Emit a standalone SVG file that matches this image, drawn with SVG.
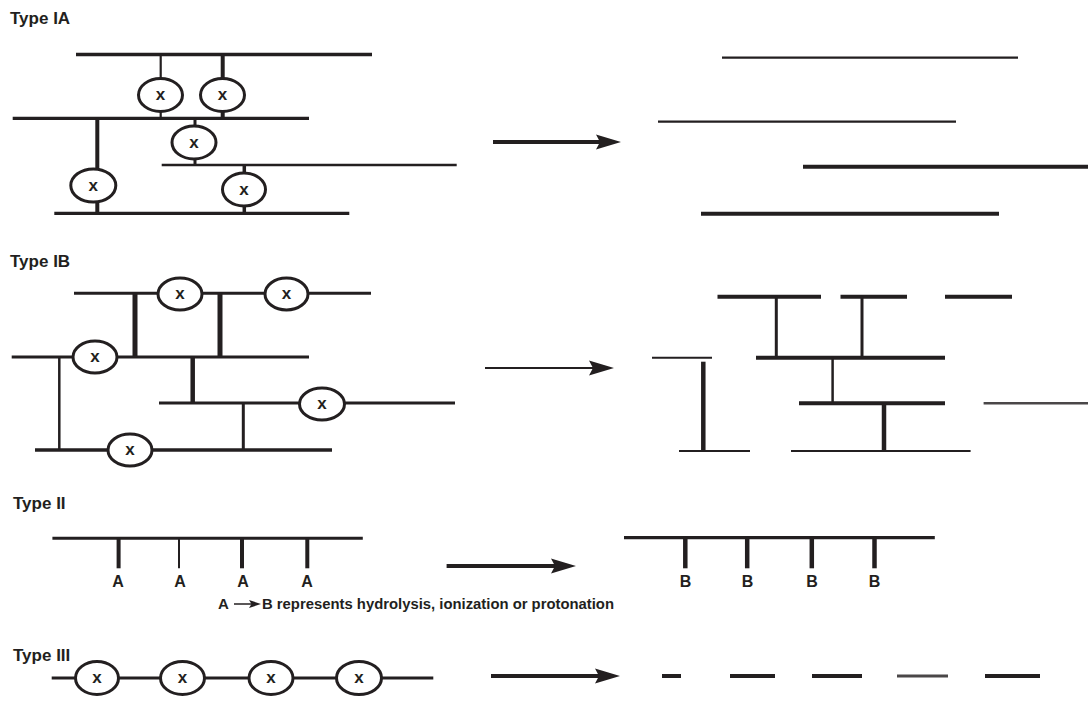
<svg xmlns="http://www.w3.org/2000/svg" width="1088" height="719" viewBox="0 0 1088 719">
  <style>
    .ln { stroke: #231f20; fill: none; stroke-linecap: butt; }
    .ring { fill: #ffffff; stroke: #231f20; stroke-width: 3; }
    .lbl { font-family: "Liberation Sans", Arial, sans-serif; font-weight: bold; fill: #231f20; }
    .ttl { font-size: 17px; }
    .sub { font-size: 16px; }
    .cap { font-size: 15px; }
    .xx { font-size: 17px; }
    .grey { stroke: #4a4748; }
  </style>
  <defs>
    <marker id="head" markerUnits="userSpaceOnUse" markerWidth="26" markerHeight="16" viewBox="0 0 26 16" refX="4" refY="8" orient="auto">
      <path d="M0,0.5 L25,8 L0,15.5 L4,8 Z" fill="#231f20"/>
    </marker>
  </defs>

  <rect width="1088" height="719" fill="#ffffff"/>

  <!-- section titles -->
  <g id="titles">
    <text class="lbl ttl" x="10" y="24">Type IA</text>
    <text class="lbl ttl" x="10" y="267">Type IB</text>
    <text class="lbl ttl" x="13" y="509">Type II</text>
    <text class="lbl ttl" x="13" y="661">Type III</text>
  </g>

  <!-- ===== Type IA ===== -->
  <g id="ia-connectors">
    <line class="ln" x1="76" y1="54.5" x2="372" y2="54.5" stroke-width="3.3"/>
    <line class="ln" x1="12.7" y1="118.3" x2="309" y2="118.3" stroke-width="3.3"/>
    <line class="ln" x1="161.7" y1="165" x2="456.7" y2="165" stroke-width="2.7"/>
    <line class="ln" x1="54.3" y1="213.3" x2="349.3" y2="213.3" stroke-width="3.3"/>
    <line class="ln" x1="160.7" y1="54.5" x2="160.7" y2="118.3" stroke-width="2.2"/>
    <line class="ln" x1="222.7" y1="54.5" x2="222.7" y2="118.3" stroke-width="4"/>
    <line class="ln" x1="195" y1="118.3" x2="195" y2="165" stroke-width="3"/>
    <line class="ln" x1="97.3" y1="118.3" x2="97.3" y2="213.3" stroke-width="4"/>
    <line class="ln" x1="244.3" y1="165" x2="244.3" y2="213.3" stroke-width="3.5"/>
  </g>
  <g id="ia-x1"><ellipse class="ring" cx="160.5" cy="95" rx="22" ry="16.5"/><text class="lbl xx" x="160.5" y="100" text-anchor="middle">x</text></g>
  <g id="ia-x2"><ellipse class="ring" cx="222.5" cy="95" rx="22" ry="16.5"/><text class="lbl xx" x="222.5" y="100" text-anchor="middle">x</text></g>
  <g id="ia-x3"><ellipse class="ring" cx="194" cy="142.5" rx="22" ry="16.5"/><text class="lbl xx" x="194" y="147.5" text-anchor="middle">x</text></g>
  <g id="ia-x4"><ellipse class="ring" cx="93.3" cy="185.5" rx="22.5" ry="16.5"/><text class="lbl xx" x="93.3" y="190.5" text-anchor="middle">x</text></g>
  <g id="ia-x5"><ellipse class="ring" cx="244" cy="189.5" rx="21.5" ry="16.5"/><text class="lbl xx" x="244" y="194.5" text-anchor="middle">x</text></g>

  <g id="ia-products">
    <line class="ln" x1="722" y1="57.7" x2="1018" y2="57.7" stroke-width="2.3"/>
    <line class="ln" x1="658" y1="121.7" x2="956" y2="121.7" stroke-width="2.3"/>
    <line class="ln" x1="803" y1="166.7" x2="1088" y2="166.7" stroke-width="4"/>
    <line class="ln" x1="701" y1="213.7" x2="999" y2="213.7" stroke-width="4"/>
  </g>

  <!-- ===== Type IB ===== -->
  <g id="ib-connectors">
    <line class="ln" x1="74" y1="293.3" x2="371" y2="293.3" stroke-width="3"/>
    <line class="ln" x1="11.7" y1="357" x2="309" y2="357" stroke-width="2.8"/>
    <line class="ln" x1="159" y1="403" x2="455" y2="403" stroke-width="2.8"/>
    <line class="ln" x1="35" y1="450" x2="332" y2="450" stroke-width="3.3"/>
    <line class="ln" x1="135" y1="293.3" x2="135" y2="357" stroke-width="5"/>
    <line class="ln" x1="220" y1="293.3" x2="220" y2="357" stroke-width="5"/>
    <line class="ln" x1="59.3" y1="357" x2="59.3" y2="450" stroke-width="2.5"/>
    <line class="ln" x1="192.7" y1="357" x2="192.7" y2="403" stroke-width="4.5"/>
    <line class="ln" x1="243.3" y1="403" x2="243.3" y2="450" stroke-width="3"/>
  </g>
  <g id="ib-x1"><ellipse class="ring" cx="180" cy="294" rx="22" ry="16"/><text class="lbl xx" x="180" y="299" text-anchor="middle">x</text></g>
  <g id="ib-x2"><ellipse class="ring" cx="286.5" cy="294" rx="21.5" ry="16"/><text class="lbl xx" x="286.5" y="299" text-anchor="middle">x</text></g>
  <g id="ib-x3"><ellipse class="ring" cx="95" cy="357" rx="22" ry="16"/><text class="lbl xx" x="95" y="362" text-anchor="middle">x</text></g>
  <g id="ib-x4"><ellipse class="ring" cx="322" cy="404" rx="22.5" ry="16"/><text class="lbl xx" x="322" y="409" text-anchor="middle">x</text></g>
  <g id="ib-x5"><ellipse class="ring" cx="130" cy="450" rx="22" ry="16"/><text class="lbl xx" x="130" y="455" text-anchor="middle">x</text></g>

  <g id="ib-products">
    <line class="ln" x1="717.5" y1="296.7" x2="821" y2="296.7" stroke-width="4"/>
    <line class="ln" x1="840.5" y1="296.7" x2="907" y2="296.7" stroke-width="4"/>
    <line class="ln" x1="945" y1="296.7" x2="1012" y2="296.7" stroke-width="4"/>
    <line class="ln" x1="776.3" y1="296.7" x2="776.3" y2="357.7" stroke-width="3"/>
    <line class="ln" x1="862" y1="296.7" x2="862" y2="357.7" stroke-width="3"/>
    <line class="ln" x1="756" y1="357.7" x2="945" y2="357.7" stroke-width="4"/>
    <line class="ln" x1="652" y1="357.7" x2="712" y2="357.7" stroke-width="2"/>
    <line class="ln" x1="703.3" y1="361.7" x2="703.3" y2="451" stroke-width="4.5"/>
    <line class="ln" x1="832.6" y1="357.7" x2="832.6" y2="403.3" stroke-width="2.5"/>
    <line class="ln" x1="799" y1="403.3" x2="945" y2="403.3" stroke-width="4"/>
    <line class="ln grey" x1="983.6" y1="403.3" x2="1088" y2="403.3" stroke-width="2.5"/>
    <line class="ln" x1="884" y1="403.3" x2="884" y2="451" stroke-width="4.5"/>
    <line class="ln" x1="679" y1="451" x2="750" y2="451" stroke-width="2"/>
    <line class="ln" x1="791" y1="451" x2="970.6" y2="451" stroke-width="2"/>
  </g>

  <!-- ===== Type II ===== -->
  <g id="ii-chain">
    <line class="ln" x1="52.4" y1="538.3" x2="362.8" y2="538.3" stroke-width="3"/>
    <line class="ln" x1="118.6" y1="538.3" x2="118.6" y2="568.3" stroke-width="4"/>
    <line class="ln" x1="179" y1="538.3" x2="179" y2="568.3" stroke-width="2"/>
    <line class="ln" x1="242" y1="538.3" x2="242" y2="568.3" stroke-width="4"/>
    <line class="ln" x1="307.3" y1="538.3" x2="307.3" y2="568.3" stroke-width="4"/>
    <text class="lbl sub" x="118" y="587" text-anchor="middle">A</text>
    <text class="lbl sub" x="180" y="587" text-anchor="middle">A</text>
    <text class="lbl sub" x="243" y="587" text-anchor="middle">A</text>
    <text class="lbl sub" x="307" y="587" text-anchor="middle">A</text>
  </g>
  <g id="ii-product">
    <line class="ln" x1="624" y1="537.7" x2="934.8" y2="537.7" stroke-width="3.3"/>
    <line class="ln" x1="685.3" y1="537.7" x2="685.3" y2="568.3" stroke-width="4.5"/>
    <line class="ln" x1="747.2" y1="537.7" x2="747.2" y2="568.3" stroke-width="4.5"/>
    <line class="ln" x1="811.8" y1="537.7" x2="811.8" y2="568.3" stroke-width="4.5"/>
    <line class="ln" x1="874.5" y1="537.7" x2="874.5" y2="568.3" stroke-width="4.5"/>
    <text class="lbl sub" x="685.5" y="587" text-anchor="middle">B</text>
    <text class="lbl sub" x="747.5" y="587" text-anchor="middle">B</text>
    <text class="lbl sub" x="812" y="587" text-anchor="middle">B</text>
    <text class="lbl sub" x="874.5" y="587" text-anchor="middle">B</text>
  </g>

  <!-- legend line -->
  <g id="legend">
    <text class="lbl cap" x="218" y="609">A</text>
    <line class="ln" x1="234" y1="604" x2="252" y2="604" stroke-width="1.5"/>
    <path d="M249,600 L261,604 L249,608 L251.5,604 Z" fill="#231f20"/>
    <text class="lbl cap" x="262" y="609" textLength="352" lengthAdjust="spacingAndGlyphs">B represents hydrolysis, ionization or protonation</text>
  </g>

  <!-- ===== Type III ===== -->
  <g id="iii-connectors">
    <line class="ln" x1="51.7" y1="678" x2="433.3" y2="678" stroke-width="3"/>
  </g>
  <g id="iii-x1"><ellipse class="ring" cx="97" cy="678" rx="21.5" ry="16.5"/><text class="lbl xx" x="97" y="683" text-anchor="middle">x</text></g>
  <g id="iii-x2"><ellipse class="ring" cx="182.5" cy="678" rx="22" ry="16.5"/><text class="lbl xx" x="182.5" y="683" text-anchor="middle">x</text></g>
  <g id="iii-x3"><ellipse class="ring" cx="271" cy="678" rx="22" ry="16.5"/><text class="lbl xx" x="271" y="683" text-anchor="middle">x</text></g>
  <g id="iii-x4"><ellipse class="ring" cx="359" cy="678" rx="22.5" ry="16.5"/><text class="lbl xx" x="359" y="683" text-anchor="middle">x</text></g>
  <g id="iii-products">
    <line class="ln" x1="662" y1="676" x2="681" y2="676" stroke-width="4"/>
    <line class="ln" x1="730" y1="676" x2="775" y2="676" stroke-width="4"/>
    <line class="ln" x1="812" y1="676" x2="862" y2="676" stroke-width="4"/>
    <line class="ln grey" x1="897" y1="676" x2="948" y2="676" stroke-width="3.2"/>
    <line class="ln" x1="985" y1="676" x2="1040" y2="676" stroke-width="4"/>
  </g>

  <!-- reaction arrows -->
  <g id="arrows">
    <line class="ln" x1="493" y1="142" x2="600" y2="142" stroke-width="4" marker-end="url(#head)"/>
    <line class="ln" x1="485" y1="368" x2="593" y2="368" stroke-width="2" marker-end="url(#head)"/>
    <line class="ln" x1="446.6" y1="566" x2="555" y2="566" stroke-width="4" marker-end="url(#head)"/>
    <line class="ln" x1="491" y1="676" x2="599" y2="676" stroke-width="4" marker-end="url(#head)"/>
  </g>
</svg>
